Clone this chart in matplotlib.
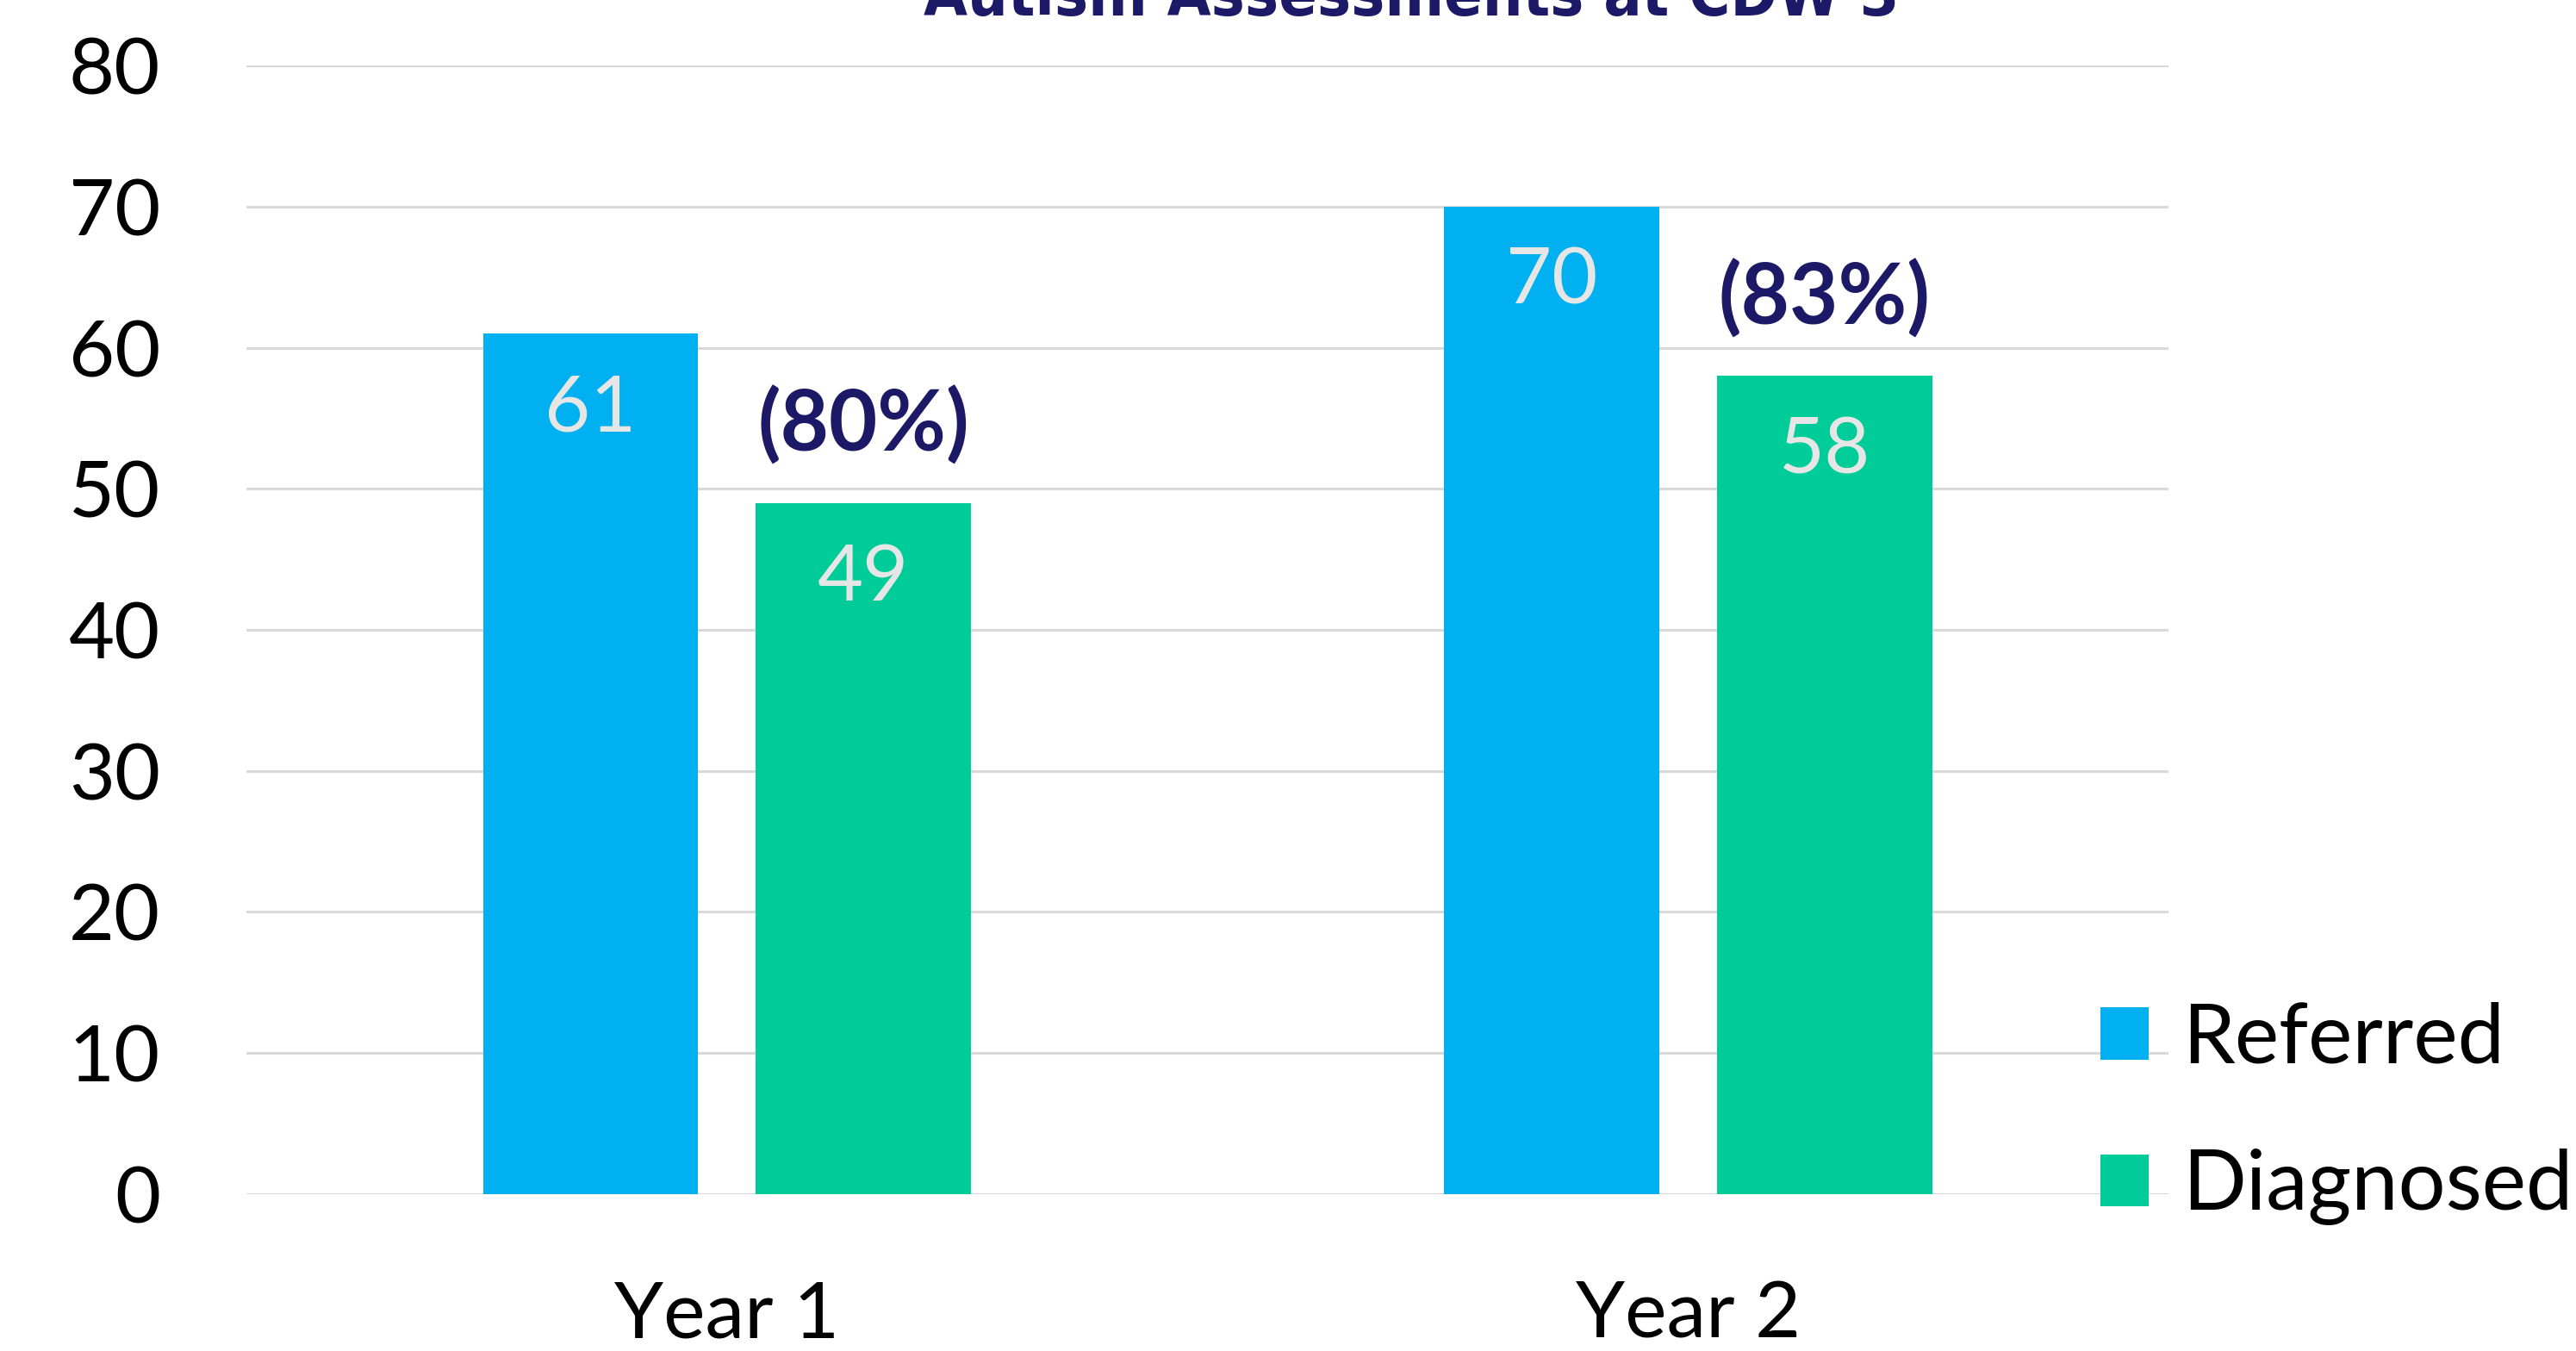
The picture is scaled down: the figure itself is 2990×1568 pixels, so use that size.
import numpy as np
import matplotlib.pyplot as plt

years = ["Year 1", "Year 2"]
referred = [61, 70]
diagnosed = [49, 58]
pct_labels = ["(80%)", "(83%)"]
y_ticks = [0, 10, 20, 30, 40, 50, 60, 70, 80]

blue = "#00B0F0"
green = "#00CC99"
navy = "#1C1A66"
label_grey = "#E6E6E6"

plt.rcParams['font.family'] = ['Lato', 'DejaVu Sans']

fig = plt.figure(figsize=(29.9, 15.68), dpi=100)
ax = fig.add_axes([0.0957, 0.1161, 0.8418 - 0.0957, 0.9515 - 0.1161])

x = np.arange(len(years))
w = 0.224
off = 0.142
b1 = ax.bar(x - off, referred, w, color=blue, label="Referred", zorder=3)
b2 = ax.bar(x + off, diagnosed, w, color=green, label="Diagnosed", zorder=3)

# values inside the bars, near the top
for bars in (b1, b2):
    for r in bars:
        ax.annotate(f"{int(r.get_height())}", (r.get_x() + r.get_width() / 2, r.get_height()),
                    xytext=(0, -63), textcoords="offset points", ha="center", va="center",
                    fontsize=66, color=label_grey, zorder=4)

# percentage diagnosed above the green bars
for r, p in zip(b2, pct_labels):
    ax.annotate(p, (r.get_x() + r.get_width() / 2, r.get_height()),
                xytext=(0, 65), textcoords="offset points", ha="center", va="center",
                fontsize=70, fontweight="bold", color=navy, zorder=4)

ax.set_xlim(-0.5, 1.5)
ax.set_ylim(0, 80)
ax.set_yticks(y_ticks)
ax.set_xticks(x)
ax.set_xticklabels(years)
ax.tick_params(axis="y", length=0, pad=72, labelsize=66)
ax.tick_params(axis="x", length=0, pad=72, labelsize=66)
ax.yaxis.grid(True, color="#D9D9D9", linewidth=2.2, zorder=0)
ax.set_axisbelow(True)
for s in ax.spines.values():
    s.set_visible(False)

fig.legend(loc="upper left", bbox_to_anchor=(0.8154, 0.2585), frameon=False,
           fontsize=70, handlelength=0.58, handleheight=0.58, handletextpad=0.4,
           labelspacing=0.85, borderpad=0, borderaxespad=0)

# title sits partly above the top edge, as in the source image
title = fig.text(0.548, 0.9885, "Autism Assessments at CDW 3", ha="center", va="baseline",
                 fontsize=68, fontweight="bold", color=navy,
                 family=['DejaVu Sans'], fontstretch="condensed")
fig.canvas.draw()
tw = title.get_window_extent().width
title.set_fontsize(68 * min(1.0, 1134 / tw))

fig.savefig("out.png", dpi=100)
